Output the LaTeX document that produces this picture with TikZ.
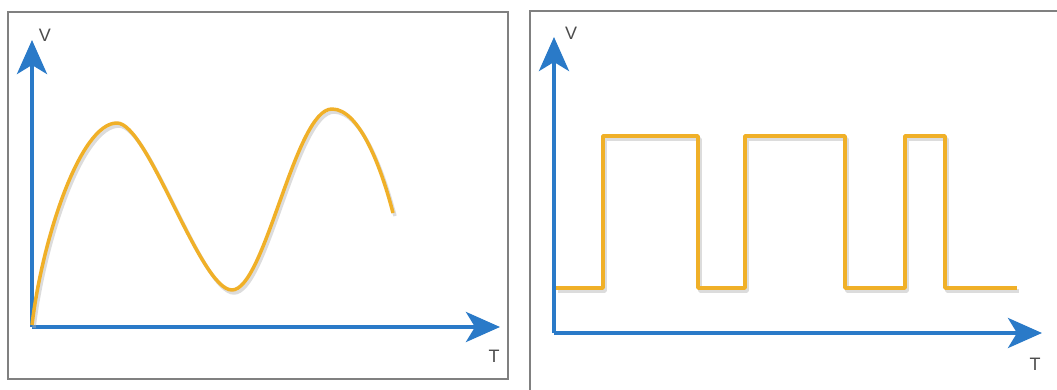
\documentclass[tikz,border=0pt]{standalone}
\usepackage{fontspec}
\setmainfont{Liberation Sans}
\usetikzlibrary{arrows.meta}
\definecolor{axisblue}{RGB}{42,122,200}
\definecolor{waveorange}{RGB}{240,176,40}
\definecolor{framegray}{RGB}{128,128,128}
\begin{document}
\begin{tikzpicture}[x=1pt,y=-1pt,
  axis/.style={draw=axisblue, line width=4pt, -{Stealth[length=34pt,width=30pt,inset=9pt]}},
  wave/.style={draw=waveorange, line width=3.5pt, line join=round},
  waveshadow/.style={draw=black!30, line width=3.5pt, line join=round, opacity=0.45},
  panel/.style={draw=framegray, line width=2pt},
  lbl/.style={text=black!70, font=\fontsize{18}{18}\selectfont, inner sep=0pt}]
\useasboundingbox (0,0) rectangle (1057,390);
\fill[white] (0,0) rectangle (1057,390);
% panels
\draw[panel] (8,12) rectangle (508,379);
\draw[panel] (530,390) -- (530,11) -- (1057,11);
% left axes
\coordinate (lo) at (32,327);
\coordinate (ly) at (32,40);
\coordinate (lx) at (500,327);
\draw[axis] (lo) -- (ly);
\draw[axis] (lo) -- (lx);
\node[lbl] (lv) at (45,35) {V};
\node[lbl] (lt) at (494,356) {T};
% sine wave
\draw[waveshadow, shift={(2,3)}] (32,325) .. controls (42,240) and (80,123) .. (117,123)
  .. controls (148,123) and (200,290) .. (232,290)
  .. controls (265,290) and (295,109) .. (332,109)
  .. controls (360,109) and (382,170) .. (393,213);
\draw[wave] (32,325) .. controls (42,240) and (80,123) .. (117,123)
  .. controls (148,123) and (200,290) .. (232,290)
  .. controls (265,290) and (295,109) .. (332,109)
  .. controls (360,109) and (382,170) .. (393,213);
% right axes
\coordinate (ro) at (554,333);
\coordinate (ry) at (554,37);
\coordinate (rx) at (1042,333);
\draw[axis] (ro) -- (ry);
\draw[axis] (ro) -- (rx);
\node[lbl] (rv) at (571,33) {V};
\node[lbl] (rt) at (1035,364) {T};
% square wave
\draw[waveshadow, shift={(2,3)}] (556,288) -- (603,288) -- (603,136) -- (698,136) -- (698,288) -- (745,288)
  -- (745,136) -- (845,136) -- (845,288) -- (905,288) -- (905,136) -- (945,136)
  -- (945,288) -- (1017,288);
\draw[wave] (556,288) -- (603,288) -- (603,136) -- (698,136) -- (698,288) -- (745,288)
  -- (745,136) -- (845,136) -- (845,288) -- (905,288) -- (905,136) -- (945,136)
  -- (945,288) -- (1017,288);
\end{tikzpicture}
\end{document}
